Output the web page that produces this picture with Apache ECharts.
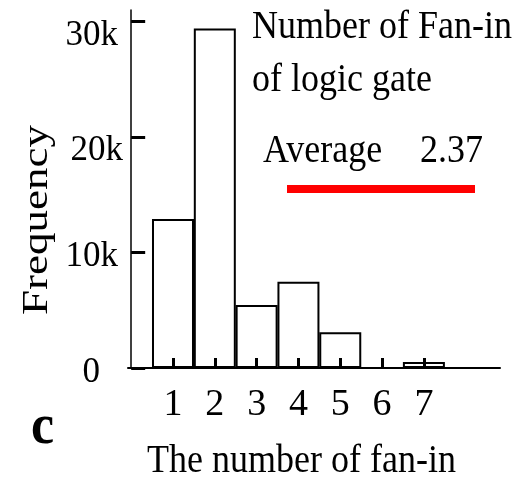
<!DOCTYPE html>
<html>
<head>
<meta charset="utf-8">
<script src="https://cdn.jsdelivr.net/npm/echarts@6/dist/echarts.min.js"></script>
<style>
  html, body { margin: 0; padding: 0; background: #fff; }
  #chart { width: 531px; height: 483px; }
</style>
</head>
<body>
<div id="chart"></div>
<script>
// Fan-in histogram of logic gates
const fanIn = [1, 2, 3, 4, 5, 6, 7];
const frequency = [12900, 29400, 5450, 7470, 3100, 0, 520];
const xTickLabels = ['1', '2', '3', '4', '5', '6', '7'];
const yTicks = [0, 10000, 20000, 30000];
const yTickLabels = ['0', '10k', '20k', '30k'];
const averageFanIn = 2.37;

const serif = '"Liberation Serif", "Times New Roman", serif';
const chart = echarts.init(document.getElementById('chart'), null, { renderer: 'canvas' });

// per-label nudges for the y tick labels: [top, right, bottom, left]
const yLabelPad = [[9, 23, 0, 0], [9, 5, 0, 0], [27, 0, 0, 0], [28, 5, 0, 0]];
const yRich = {};
yTicks.forEach((v, i) => {
  yRich['t' + i] = { fontSize: 35, fontFamily: serif, color: '#000', padding: yLabelPad[i] };
});

function title(text, x, y, extra) {
  return Object.assign({
    type: 'text', x: x, y: y, scaleY: 1.13,
    style: {
      text: text, fontSize: 36, fontFamily: serif, fill: '#000',
      align: 'left', verticalAlign: 'middle'
    }
  }, extra || {});
}

chart.setOption({
  animation: false,
  backgroundColor: '#fff',
  grid: { left: 128, right: 31, top: 10, bottom: 115, containLabel: false },
  xAxis: {
    type: 'value', min: -0.076, max: 8.82, z: 5,
    axisLine: { show: true, onZero: false, lineStyle: { color: '#000', width: 2 } },
    axisTick: { show: true, inside: true, length: 10, customValues: fanIn,
      lineStyle: { color: '#000', width: 3 } },
    axisLabel: { customValues: fanIn, margin: 18, fontSize: 38, fontFamily: serif, color: '#000',
      formatter: v => xTickLabels[fanIn.indexOf(v)] },
    splitLine: { show: false }
  },
  yAxis: {
    type: 'value', min: 0, max: 31000, z: 5,
    axisLine: { show: true, lineStyle: { color: '#000', width: 1.5 } },
    axisTick: { show: true, inside: true, length: 14, customValues: yTicks,
      lineStyle: { color: '#000', width: 3 } },
    axisLabel: { customValues: yTicks, margin: 5, rich: yRich,
      formatter: v => { const i = yTicks.indexOf(v); return '{t' + i + '|' + yTickLabels[i] + '}'; } },
    splitLine: { show: false }
  },
  series: [{
    type: 'bar',
    data: fanIn.map((x, i) => [x, frequency[i]]),
    barWidth: 42,
    itemStyle: { color: '#fff', borderColor: '#000', borderWidth: 2 }
  }],
  graphic: [
    title('Number of Fan-in', 252, 27),
    title('of logic gate', 252, 80),
    title('Average', 263, 151.5),
    title(averageFanIn.toFixed(2), 420, 151.5),
    { type: 'line', shape: { x1: 287, y1: 189, x2: 475, y2: 189 },
      style: { stroke: '#ff0000', lineWidth: 8 } },
    title('The number of fan-in', 147, 461.5),
    { type: 'text', x: 38, y: 220, rotation: Math.PI / 2, scaleX: 1.25,
      style: { text: 'Frequency', fontSize: 36, fontFamily: serif, fill: '#000',
        align: 'center', verticalAlign: 'middle' } },
    { type: 'text', x: 31, y: 428, scaleY: 1.1,
      style: { text: 'c', fontSize: 52, fontWeight: 'bold', fontFamily: serif, fill: '#000',
        align: 'left', verticalAlign: 'middle' } }
  ]
});
</script>
</body>
</html>
